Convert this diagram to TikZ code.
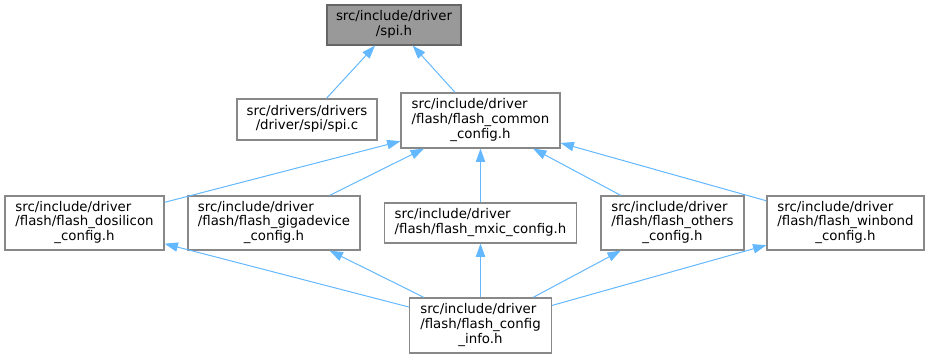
\documentclass[tikz,border=0pt]{standalone}
\usepackage{fontspec}
\setmainfont{DejaVu Sans}
\usepackage{xcolor}
\usepackage{tikz}
\usetikzlibrary{arrows.meta, positioning}
\definecolor{dox-edge}{HTML}{63B8FF}
\definecolor{dox-border}{HTML}{888888}
\definecolor{dox-rootfill}{HTML}{999999}
\definecolor{dox-rootdraw}{HTML}{666666}
% last line of a label is centred, the others flush left
\newcommand{\hdrlabel}[2]{\begin{tabular}{@{}l@{}}#1\\\multicolumn{1}{@{}c@{}}{#2}\end{tabular}}

\begin{document}
\begin{tikzpicture}[
			x=0.75pt, y=-0.75pt,
			header/.style={
				draw=dox-border, fill=white, line width=0.9pt,
				inner sep=0pt, font=\fontsize{10}{11}\selectfont
			},
			rootheader/.style={
				header, draw=dox-rootdraw, fill=dox-rootfill
			},
			dep/.style={
				draw=dox-edge, line width=0.75pt,
				{Triangle[length=10pt,width=7pt]}-
			}
			]
			
			\useasboundingbox (0,0) rectangle (929,359);
			
			% top row
			\node[rootheader, minimum width=100.5pt, minimum height=30pt] (spi) at (394,25)
			{\hdrlabel{src/include/driver}{/spi.h}};
			
			% second row
			\node[header, minimum width=105pt, minimum height=30.75pt] (spic) at (307,119.5)
			{\hdrlabel{src/drivers/drivers}{/driver/spi/spi.c}};
			\node[header, minimum width=119.25pt, minimum height=41.25pt] (common) at (480.5,120.5)
			{\hdrlabel{src/include/driver\\/flash/flash\_common}{\_config.h}};
			
			% third row
			\node[header, minimum width=119.25pt, minimum height=40.5pt] (dosilicon) at (84.5,223)
			{\hdrlabel{src/include/driver\\/flash/flash\_dosilicon}{\_config.h}};
			\node[header, minimum width=129pt, minimum height=40.5pt] (gigadevice) at (274,223)
			{\hdrlabel{src/include/driver\\/flash/flash\_gigadevice}{\_config.h}};
			\node[header, minimum width=144pt, minimum height=30pt] (mxic) at (480.5,223)
			{\hdrlabel{src/include/driver}{/flash/flash\_mxic\_config.h}};
			\node[header, minimum width=107.25pt, minimum height=40.5pt] (others) at (672.5,223)
			{\hdrlabel{src/include/driver\\/flash/flash\_others}{\_config.h}};
			\node[header, minimum width=117.75pt, minimum height=40.5pt] (winbond) at (845.5,223)
			{\hdrlabel{src/include/driver\\/flash/flash\_winbond}{\_config.h}};
			
			% bottom row
			\node[header, minimum width=106.5pt, minimum height=41.25pt] (info) at (480.5,325.5)
			{\hdrlabel{src/include/driver\\/flash/flash\_config}{\_info.h}};
			
			% include edges, arrow at the included file
			\draw[dep] (spi) -- (spic);
			\draw[dep] (spi) -- (common);
			\foreach \f in {dosilicon, gigadevice, mxic, others, winbond} {
				\draw[dep] (common) -- (\f);
				\draw[dep] (\f) -- (info);
			}
			
		\end{tikzpicture}
\end{document}
